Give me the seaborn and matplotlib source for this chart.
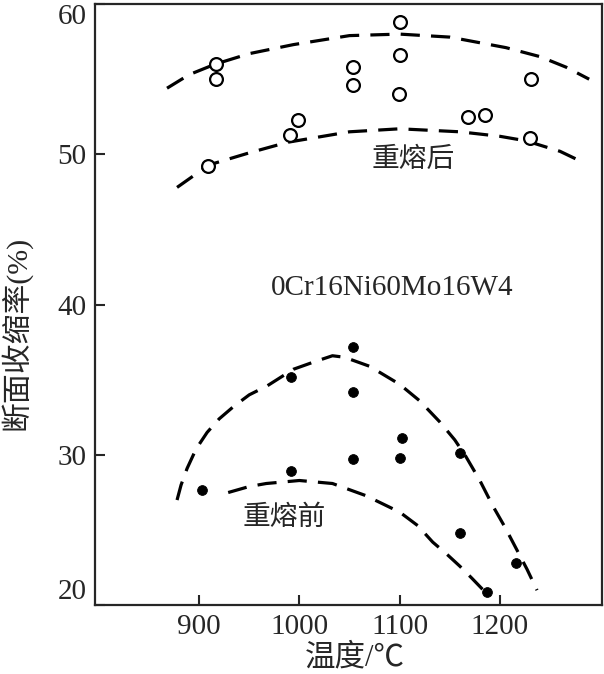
import numpy as np
import pandas as pd
import matplotlib
matplotlib.use("Agg")
import matplotlib.pyplot as plt
import seaborn as sns

# 重熔后 (open circles)
after_x = [917, 917, 909, 991, 999, 1053, 1053, 1100, 1100, 1099, 1168, 1185, 1231, 1230]
after_y = [56.0, 55.0, 49.2, 51.3, 52.3, 55.8, 54.6, 58.8, 56.6, 54.0, 52.5, 52.6, 55.0, 51.1]

# 重熔前 (filled dots)
before_x = [903, 992, 992, 1053, 1053, 1053, 1102, 1100, 1160, 1160, 1216, 1187]
before_y = [27.7, 28.9, 35.2, 37.2, 34.2, 29.7, 31.1, 29.8, 30.1, 24.8, 22.8, 20.9]

# dashed curves
up_a_x = [868, 890, 916, 950, 994, 1050, 1100, 1150, 1206, 1240, 1266, 1289]
up_a_y = [54.4, 55.3, 56.0, 56.7, 57.3, 57.9, 58.0, 57.8, 57.1, 56.5, 55.8, 55.0]
lo_a_x = [878, 895, 910, 950, 988, 1050, 1100, 1160, 1200, 1226, 1260, 1285]
lo_a_y = [47.8, 48.6, 49.3, 50.1, 50.8, 51.5, 51.7, 51.5, 51.2, 50.9, 50.2, 49.4]
up_b_x = [878, 882, 888, 897, 908, 920, 934, 950, 968, 994, 1015, 1033, 1045,
          1070, 1100, 1120, 1140, 1155, 1166, 1180, 1193, 1205, 1216, 1227, 1237]
up_b_y = [27.0, 28.0, 29.1, 30.4, 31.5, 32.4, 33.2, 34.0, 34.6, 35.7, 36.2, 36.6, 36.5,
          35.9, 34.7, 33.6, 32.2, 31.0, 29.9, 28.3, 26.6, 25.2, 23.8, 22.4, 21.0]
lo_b_x = [929, 950, 967, 1000, 1033, 1066, 1100, 1118, 1133, 1147, 1160, 1172, 1185]
lo_b_y = [27.5, 27.9, 28.1, 28.3, 28.1, 27.3, 26.2, 25.3, 24.2, 23.4, 22.6, 21.8, 20.9]

x_ticks = [900, 1000, 1100, 1200]
y_ticks = [20, 30, 40, 50, 60]

sns.set_style("ticks")
plt.rcParams['font.family'] = ['Liberation Serif', 'Noto Sans CJK SC']

fig = plt.figure(figsize=(6.04, 6.74), dpi=100)
ax = fig.add_axes([0.157, 0.102, 0.84, 0.892])

dash = (6, 3.5)
for cx, cy in [(up_a_x, up_a_y), (lo_a_x, lo_a_y), (up_b_x, up_b_y), (lo_b_x, lo_b_y)]:
    sns.lineplot(x=cx, y=cy, sort=False, ax=ax, color="black", lw=2.3,
                 estimator=None)
for l in ax.lines:
    l.set_dashes(dash)

sns.scatterplot(x=after_x, y=after_y, ax=ax, marker="o", s=85,
                facecolor="white", edgecolor="black", linewidth=1.6, zorder=3)
sns.scatterplot(x=before_x, y=before_y, ax=ax, marker="o", s=50,
                color="black", edgecolor="black", zorder=3)

ax.set_xlim(796, 1302)
ax.set_ylim(20, 60)
ax.set_xticks(x_ticks)
ax.set_yticks(y_ticks)
ax.tick_params(direction="in", length=7, width=1.5, labelsize=21, pad=6)
ylabels = ax.get_yticklabels()
ylabels[0].set_va("bottom")
ylabels[-1].set_va("top")
for s in ax.spines.values():
    s.set_linewidth(1.6)

ax.text(1113, 49.6, "重熔后", fontsize=20, ha="center", va="center")
ax.text(1093, 41.1, "0Cr16Ni60Mo16W4", fontsize=21, ha="center", va="center")
ax.text(985, 25.8, "重熔前", fontsize=20, ha="center", va="center")

ax.set_xlabel("温度/℃", fontsize=22)
ax.set_ylabel("断面收缩率(%)", fontsize=21.5)
ax.xaxis.set_label_coords(0.513, -0.063)
ax.yaxis.set_label_coords(-0.124, 0.453)

fig.savefig("out.png", dpi=100)
